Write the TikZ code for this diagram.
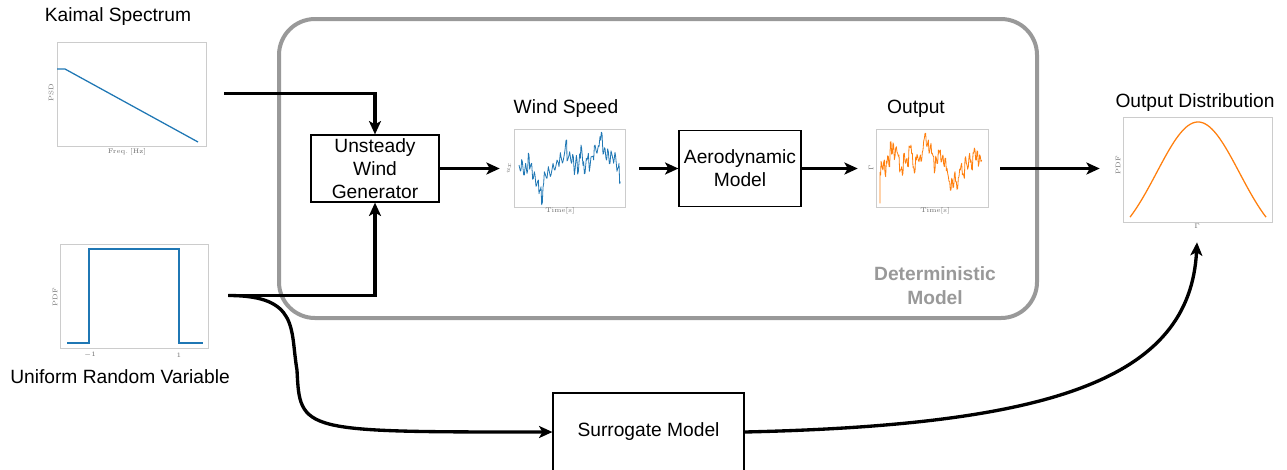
\documentclass[tikz,border=0pt]{standalone}
\usepackage[no-math]{fontspec}
\setmainfont{Liberation Sans}
\usepackage{tikz}
\usetikzlibrary{arrows.meta}
\usetikzlibrary{positioning}

\definecolor{plotblue}{HTML}{1F77B4}
\definecolor{plotorange}{HTML}{FF7F0E}
\definecolor{framegray}{HTML}{CCCCCC}
\definecolor{boxgray}{HTML}{999999}
\definecolor{labelgray}{HTML}{707070}

\tikzset{
  block/.style={draw, line width=0.9pt, align=center, inner sep=0pt},
  conn/.style={line width=2.5pt, -{Stealth[length=10pt, width=9pt, inset=2.5pt]}},
  plotframe/.style={draw=framegray, line width=0.5pt},
  curve/.style={line width=0.95pt},
  signal/.style={line width=0.6pt, line join=round},
  ticklabel/.style={font=\fontsize{4.8}{5}\selectfont, text=labelgray, inner sep=0pt},
  imgbox/.style={inner sep=0pt, minimum height=67.5pt},
}

\begin{document}
\begin{tikzpicture}[x=0.75pt, y=-0.75pt, font=\fontsize{14.4}{17.3}\selectfont]
    \useasboundingbox (0,0) rectangle (1287,469);

    % deterministic part
    \node [draw=boxgray, line width=3pt, rounded corners=27pt, minimum width=568.5pt, minimum height=224.25pt] (det) at (658,168.5) {};
    \node [text=boxgray, font=\fontsize{14.4}{18}\selectfont\bfseries, align=center] (detlabel) at (935,286) {Deterministic\\Model};

    \node [block, minimum width=96pt, minimum height=50.25pt] (gen) at (375,168.5) {Unsteady\\Wind\\Generator};
    \node [block, minimum width=91.5pt, minimum height=57pt] (aero) at (740,168.5) {Aerodynamic\\Model};
    \node [block, minimum width=143.25pt, minimum height=58.5pt] (surr) at (648.5,432) {Surrogate Model};

    % plots
    \node [imgbox, minimum width=138pt, minimum height=90pt] (kaimal) at (132,93.5) {};
    \node [imgbox, minimum width=137.25pt, minimum height=90pt] (uniform) at (136.5,295.5) {};
    \node [imgbox, minimum width=104.25pt] (wind) at (569.5,168.5) {};
    \node [imgbox, minimum width=106.5pt] (output) at (929,168.5) {};
    \node [imgbox, minimum width=145.5pt, minimum height=110.25pt] (dist) at (1197,168.5) {};

    \node (kaimaltitle) at (118,17) {Kaimal Spectrum};
    \node (uniformtitle) at (120,377) {Uniform Random Variable};
    \node (windtitle) at (566,109) {Wind Speed};
    \node (outputtitle) at (916,109) {Output};
    \node (disttitle) at (1195,103) {Output Distribution};

    % kaimal spectrum
    \draw [plotframe] (57,42) rectangle (206,146);
    \draw [curve, plotblue] (57,69) -- (65,69) -- (198,142);
    \node [ticklabel, rotate=90] (psd) at (51,93) {$\mathrm{PSD}$};
    \node [ticklabel] (freq) at (127,152) {$\mathrm{Freq.\ [Hz]}$};

    % uniform pdf
    \draw [plotframe] (60,244) rectangle (208,348);
    \draw [curve, plotblue] (67,343) -- (89,343) -- (89,249) -- (179,249) -- (179,343) -- (203,343);
    \node [ticklabel] (mone) at (90,355) {$-1$};
    \node [ticklabel] (one) at (179,355) {$1$};
    \node [ticklabel, rotate=90] (updf) at (55,297) {$\mathrm{PDF}$};

    % wind speed
    \pgfmathsetseed{7}
    \draw [plotframe] (514,129) rectangle (625,207);
    \node [ticklabel, rotate=90] (ux) at (509,168) {$u_x$};
    \node [ticklabel] (wtime) at (560,211) {$\mathrm{Time[s]}$};
    \begin{scope}[shift={(505,120)}, x=0.25pt, y=-0.25pt]
        \draw [signal, plotblue] (42,135)
            foreach \px/\py in {48/150, 52/125, 58/165, 62/130, 68/150, 72/105, 76/140, 80/130, 85/175, 90/165,
                95/195, 100/180, 104/210, 108/200, 112/248, 116/190, 120/160, 126/175, 132/150, 138/165,
                144/130, 150/150, 156/120, 162/140, 168/110, 174/125, 180/90, 185/60, 188/120, 194/95,
                200/130, 205/110, 210/150, 216/120, 220/155, 226/115, 230/85, 236/125, 240/160, 246/120,
                250/100, 255/140, 260/110, 266/120, 270/75, 276/100, 282/80, 287/60, 291/40, 296/100,
                300/85, 305/120, 310/95, 315/130, 320/100, 326/130, 332/110, 338/145, 342/130, 346/185}
            { -- ({\px-2},{\py+14*rand}) -- (\px,\py) };
    \end{scope}

    % output signal
    \draw [plotframe] (876,129) rectangle (988,207);
    \node [ticklabel, rotate=90] (gam) at (871,168) {$\Gamma$};
    \node [ticklabel] (otime) at (935,211) {$\mathrm{Time[s]}$};
    \begin{scope}[shift={(865,120)}, x=0.25pt, y=-0.25pt]
        \draw [signal, plotorange] (45,250)
            foreach \px/\py in {47/165, 50/130, 54/150, 58/120, 62/170, 66/130, 70/110, 74/140, 78/65, 82/100,
                86/75, 90/110, 94/80, 98/100, 102/105, 106/150, 110/140, 114/160, 118/100, 122/130,
                126/115, 130/140, 134/80, 138/75, 142/100, 146/140, 150/155, 154/120, 158/110, 162/125,
                166/105, 170/120, 174/90, 178/55, 182/40, 186/80, 190/60, 194/95, 198/70, 202/100,
                206/110, 210/150, 214/115, 218/130, 222/100, 226/90, 230/125, 234/105, 238/140, 242/115,
                246/145, 250/170, 254/185, 258/210, 262/180, 266/200, 270/155, 274/185, 278/205, 282/170,
                286/150, 290/130, 294/160, 298/175, 302/110, 306/135, 310/140, 314/100, 318/120, 322/150,
                326/100, 330/90, 334/120, 338/95, 342/130, 346/110, 350/120}
            { -- ({\px-2},{\py+10*rand}) -- (\px,\py) };
    \end{scope}

    % output distribution
    \draw [plotframe] (1123,117) rectangle (1272,222);
    \draw [curve, plotorange, domain=1130:1266, samples=100] plot (\x, {250-128*exp(-(\x-1198)^2/3402)});
    \node [ticklabel, rotate=90] (dpdf) at (1118,165) {$\mathrm{PDF}$};
    \node [ticklabel] (dgam) at (1197,226) {$\Gamma$};

    % connections
    \draw [conn] (kaimal.east) -| (gen.north);
    \draw [conn] (uniform.east) -| (gen.south);
    \draw [conn] (gen.east) -- (wind.west);
    \draw [conn] (wind.east) -- (aero.west);
    \draw [conn] (aero.east) -- (output.west);
    \draw [conn] (output.east) -- (dist.west);
    \draw [conn] (uniform.east) .. controls (300,295.5) and (290,330) .. (297,370) .. controls (300,432) .. (surr.west);
    \draw [conn] (surr.east) .. controls (1050,425) and (1190,380) .. (dist.south);
\end{tikzpicture}
\end{document}
